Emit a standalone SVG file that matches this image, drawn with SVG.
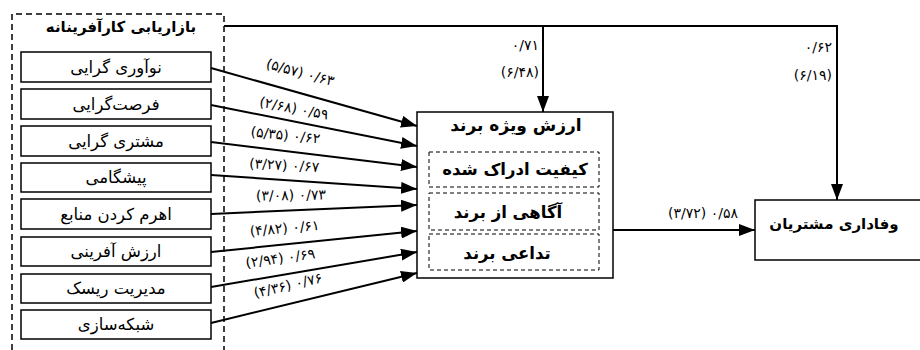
<svg xmlns="http://www.w3.org/2000/svg" width="920" height="350" viewBox="0 0 920 350">
<style>
.bx{fill:#fff;stroke:#000;stroke-width:1.5}
.dash{fill:none;stroke:#000;stroke-width:1.5;stroke-dasharray:6,4}
.dash2{fill:none;stroke:#000;stroke-width:1;stroke-dasharray:4,3}
.fa{font-family:"DejaVu Sans",sans-serif;fill:#000;text-anchor:middle;direction:rtl}
.lbl{font-size:16.5px}
.bold{font-weight:bold}
.num{font-family:"DejaVu Sans",sans-serif;font-size:14px;fill:#000;text-anchor:middle}
.numr{font-family:"DejaVu Sans",sans-serif;font-size:14px;fill:#000;text-anchor:end}
.ln{stroke:#000;stroke-width:2;fill:none}
</style>
<defs>
<marker id="ah" markerUnits="userSpaceOnUse" markerWidth="16" markerHeight="12" refX="16" refY="6" orient="auto">
<path d="M0,0 L16,6 L0,12 z" fill="#000"/>
</marker>
</defs>
<rect width="920" height="350" fill="#fff"/>

<g id="entrepreneurial-marketing">
<path class="dash" d="M12,350 L12,14 L224,14 L224,350"/>
<text class="fa bold" x="121" y="32" font-size="15">بازاریابی کارآفرینانه</text>
</g>
<g id="n1"><rect class="bx" x="21" y="52" width="190" height="30"/><text class="fa lbl" x="116" y="73">نوآوری گرایی</text></g>
<g id="n2"><rect class="bx" x="21" y="89" width="190" height="30"/><text class="fa lbl" x="116" y="110">فرصت‌گرایی</text></g>
<g id="n3"><rect class="bx" x="21" y="126" width="190" height="30"/><text class="fa lbl" x="116" y="147">مشتری گرایی</text></g>
<g id="n4"><rect class="bx" x="21" y="163" width="190" height="29"/><text class="fa lbl" x="116" y="183">پیشگامی</text></g>
<g id="n5"><rect class="bx" x="21" y="199" width="190" height="30"/><text class="fa lbl" x="116" y="220">اهرم کردن منابع</text></g>
<g id="n6"><rect class="bx" x="21" y="237" width="190" height="29"/><text class="fa lbl" x="116" y="257">ارزش آفرینی</text></g>
<g id="n7"><rect class="bx" x="21" y="274" width="190" height="29"/><text class="fa lbl" x="116" y="294">مدیریت ریسک</text></g>
<g id="n8"><rect class="bx" x="21" y="310" width="190" height="29"/><text class="fa lbl" x="116" y="330">شبکه‌سازی</text></g>

<g id="brand-equity">
<rect class="bx" x="417" y="112" width="196" height="166"/>
<text class="fa bold" x="516" y="131" font-size="17">ارزش ویژه برند</text>
<rect class="dash2" x="429" y="152" width="170" height="35"/>
<text class="fa bold" x="515" y="175" font-size="16.5">کیفیت ادراک شده</text>
<rect class="dash2" x="429" y="193" width="170" height="37"/>
<text class="fa bold" x="508" y="218" font-size="16.5">آگاهی از برند</text>
<rect class="dash2" x="429" y="234" width="170" height="36"/>
<text class="fa bold" x="507" y="259" font-size="16.5">تداعی برند</text>
</g>

<g id="loyalty">
<rect class="bx" x="755" y="200" width="170" height="60"/>
<text class="fa bold" x="834" y="229" font-size="15">وفاداری مشتریان</text>
</g>

<g id="connectors">
<line class="ln" x1="211" y1="68" x2="417" y2="126" marker-end="url(#ah)"/>
<line class="ln" x1="211" y1="105" x2="417" y2="146" marker-end="url(#ah)"/>
<line class="ln" x1="211" y1="142" x2="417" y2="167" marker-end="url(#ah)"/>
<line class="ln" x1="211" y1="175" x2="417" y2="189" marker-end="url(#ah)"/>
<line class="ln" x1="211" y1="214" x2="417" y2="205" marker-end="url(#ah)"/>
<line class="ln" x1="211" y1="252" x2="417" y2="231" marker-end="url(#ah)"/>
<line class="ln" x1="211" y1="287" x2="417" y2="252" marker-end="url(#ah)"/>
<line class="ln" x1="211" y1="323" x2="417" y2="273" marker-end="url(#ah)"/>
<polyline class="ln" stroke-width="2.5" points="224,26 837,26"/>
<line class="ln" x1="543" y1="26" x2="543" y2="112" marker-end="url(#ah)"/>
<line class="ln" x1="837" y1="25" x2="837" y2="200" marker-end="url(#ah)"/>
<line class="ln" x1="613" y1="230" x2="755" y2="230" marker-end="url(#ah)"/>
</g>

<g id="labels">
<text class="num" transform="translate(299,77) rotate(15)">(۵/۵۷) ۰/۶۳</text>
<text class="num" transform="translate(293,113) rotate(11)">(۲/۶۸) ۰/۵۹</text>
<text class="num" transform="translate(285,140) rotate(6)">(۵/۳۵) ۰/۶۲</text>
<text class="num" transform="translate(284,170) rotate(3)">(۳/۲۷) ۰/۶۷</text>
<text class="num" transform="translate(291,200) rotate(-1)">(۳/۰۸) ۰/۷۳</text>
<text class="num" transform="translate(285,233) rotate(-5)">(۴/۸۲) ۰/۶۱</text>
<text class="num" transform="translate(281,263) rotate(-8)">(۲/۹۴) ۰/۶۹</text>
<text class="num" transform="translate(289,290) rotate(-13)">(۴/۳۶) ۰/۷۶</text>
<text class="numr" x="539" y="50">۰/۷۱</text>
<text class="numr" x="539" y="77">(۶/۴۸)</text>
<text class="numr" x="832" y="52">۰/۶۲</text>
<text class="numr" x="832" y="80">(۶/۱۹)</text>
<text class="num" x="703" y="218" font-size="15">(۳/۷۲) ۰/۵۸</text>
</g>
</svg>
